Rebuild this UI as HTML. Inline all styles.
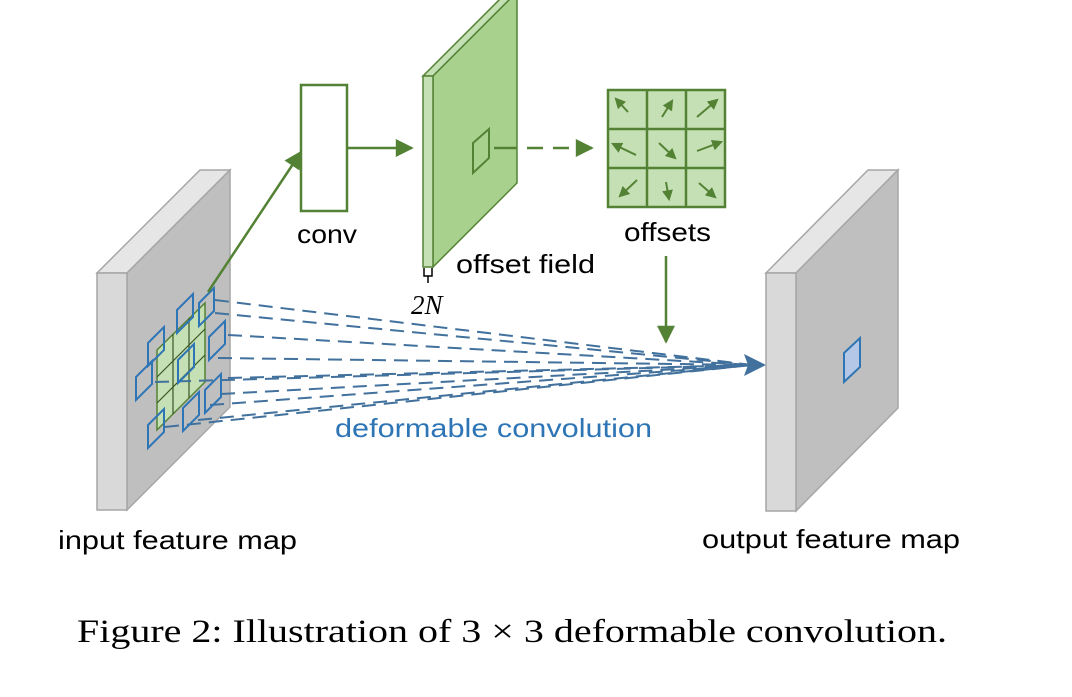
<!DOCTYPE html>
<html><head><meta charset="utf-8"><style>
body{margin:0;background:#fff;width:1072px;height:692px;overflow:hidden}
</style></head><body>
<svg width="1072" height="692" viewBox="0 0 1072 692" xmlns="http://www.w3.org/2000/svg">
<defs>
<marker id="ga" viewBox="0 0 10 10" refX="9" refY="5" markerWidth="20" markerHeight="18" markerUnits="userSpaceOnUse" orient="auto"><path d="M0,0L10,5L0,10z" fill="#548235"/></marker>
<marker id="gs" viewBox="0 0 10 10" refX="8" refY="5" markerWidth="11" markerHeight="11" markerUnits="userSpaceOnUse" orient="auto"><path d="M0,0L10,5L0,10z" fill="#548235"/></marker>
</defs>
<!-- input map -->
<polygon points="97,273 127,273 230,170 200,170" fill="#e6e6e6" stroke="#a6a6a6" stroke-width="1.5"/>
<polygon points="127,273 230,170 230,407 127,510" fill="#bfbfbf" stroke="#a6a6a6" stroke-width="1.5"/>
<rect x="97" y="273" width="30" height="237" fill="#d9d9d9" stroke="#a6a6a6" stroke-width="1.5"/>
<!-- green grid -->
<polygon points="157,350 205,303 205,382 157,430" fill="#c5e0b4" stroke="#548235" stroke-width="1.5"/>
<g stroke="#385723" stroke-width="1.2">
<line x1="173" y1="334" x2="173" y2="414"/><line x1="189" y1="318" x2="189" y2="398"/>
<line x1="157" y1="377" x2="205" y2="329"/><line x1="157" y1="403" x2="205" y2="355"/>
</g>
<!-- blue dashed lines -->
<g stroke="#41719c" stroke-width="2" stroke-dasharray="14,8" fill="none">
<line x1="215" y1="300" x2="752" y2="365"/>
<line x1="215" y1="313" x2="752" y2="365"/>
<line x1="228" y1="335" x2="752" y2="365"/>
<line x1="218" y1="358" x2="752" y2="365"/>
<line x1="228" y1="378" x2="752" y2="365"/>
<line x1="221" y1="394" x2="752" y2="365"/>
<line x1="210" y1="405" x2="752" y2="365"/>
<line x1="198" y1="420" x2="752" y2="365"/>
<line x1="165" y1="427" x2="752" y2="365"/>
<line x1="155" y1="382" x2="752" y2="365"/>
</g>
<polygon points="766,365 744,354 748,365 744,376" fill="#41719c"/>
<!-- blue squares -->
<g fill="none" stroke="#2e75b6" stroke-width="2">
<polygon points="148,343 164,327 164,350 148,366"/>
<polygon points="177,310 193,294 193,317 177,333"/>
<polygon points="199,303 214,288 214,311 199,326"/>
<polygon points="209,337 225,321 225,344 209,360"/>
<polygon points="178,360 194,344 194,367 178,383"/>
<polygon points="136,377 152,361 152,384 136,400"/>
<polygon points="205,390 221,374 221,397 205,413"/>
<polygon points="183,408 199,392 199,415 183,431"/>
<polygon points="148,425 164,409 164,432 148,448"/>
</g>
<!-- arrow input to conv -->
<line x1="208" y1="292" x2="301" y2="152" stroke="#548235" stroke-width="2.5" marker-end="url(#ga)"/>
<!-- conv box -->
<rect x="301" y="85" width="46" height="126" fill="#fff" stroke="#548235" stroke-width="2.5"/>
<line x1="347" y1="148" x2="412" y2="148" stroke="#548235" stroke-width="2.5" marker-end="url(#ga)"/>
<!-- offset field -->
<polygon points="423,76 433,76 517,-8 507,-8" fill="#c5e0b4" stroke="#548235" stroke-width="1.5"/>
<polygon points="433,76 517,-8 517,183 433,267" fill="#a9d18e" stroke="#548235" stroke-width="1.5"/>
<rect x="423" y="76" width="10" height="191" fill="#c5e0b4" stroke="#548235" stroke-width="1.5"/>
<polygon points="473,143 489,129 489,158 473,173" fill="none" stroke="#548235" stroke-width="2"/>
<line x1="494" y1="148" x2="517" y2="148" stroke="#548235" stroke-width="2.5"/>
<line x1="527" y1="148" x2="592" y2="148" stroke="#548235" stroke-width="2.5" stroke-dasharray="16,10" marker-end="url(#ga)"/>
<path d="M424,268 v8 h8 v-8 M428,276 v7" fill="none" stroke="#000" stroke-width="1.5"/>
<text x="411" y="314" font-family="Liberation Serif,serif" font-style="italic" font-size="27">2N</text>
<!-- offsets grid -->
<rect x="608" y="90" width="117" height="117" fill="#c5e0b4" stroke="#548235" stroke-width="2.5"/>
<g stroke="#548235" stroke-width="2.5"><line x1="647" y1="90" x2="647" y2="207"/><line x1="686" y1="90" x2="686" y2="207"/><line x1="608" y1="129" x2="725" y2="129"/><line x1="608" y1="168" x2="725" y2="168"/></g>
<g stroke="#548235" stroke-width="2" marker-end="url(#gs)">
<line x1="628" y1="112" x2="616" y2="99"/>
<line x1="662" y1="117" x2="672" y2="101"/>
<line x1="697" y1="117" x2="717" y2="100"/>
<line x1="636" y1="155" x2="613" y2="144"/>
<line x1="659" y1="143" x2="675" y2="158"/>
<line x1="697" y1="151" x2="721" y2="142"/>
<line x1="637" y1="180" x2="620" y2="196"/>
<line x1="666" y1="182" x2="669" y2="199"/>
<line x1="699" y1="183" x2="715" y2="197"/>
</g>
<line x1="666" y1="256" x2="666" y2="342" stroke="#548235" stroke-width="2.5" marker-end="url(#ga)"/>
<!-- output map -->
<polygon points="766,273 796,273 898,170 868,170" fill="#e6e6e6" stroke="#a6a6a6" stroke-width="1.5"/>
<polygon points="796,273 898,170 898,408 796,511" fill="#bfbfbf" stroke="#a6a6a6" stroke-width="1.5"/>
<rect x="766" y="273" width="30" height="238" fill="#d9d9d9" stroke="#a6a6a6" stroke-width="1.5"/>
<polygon points="844,353 860,338 860,367 844,382" fill="#b4c7e7" stroke="#2e75b6" stroke-width="2"/>
<!-- labels -->
<g font-family="Liberation Sans,sans-serif" font-size="26" fill="#000" lengthAdjust="spacingAndGlyphs">
<text x="297" y="243" textLength="60" lengthAdjust="spacingAndGlyphs">conv</text>
<text x="624" y="241" textLength="87" lengthAdjust="spacingAndGlyphs">offsets</text>
<text x="456" y="273" textLength="139" lengthAdjust="spacingAndGlyphs">offset field</text>
<text x="58" y="549" textLength="239" lengthAdjust="spacingAndGlyphs">input feature map</text>
<text x="702" y="548" textLength="258" lengthAdjust="spacingAndGlyphs">output feature map</text>
<text x="335" y="437" fill="#2e75b6" textLength="317" lengthAdjust="spacingAndGlyphs">deformable convolution</text>
</g>
<text x="77" y="642" font-family="Liberation Serif,serif" font-size="33" textLength="870" lengthAdjust="spacingAndGlyphs">Figure 2: Illustration of 3 × 3 deformable convolution.</text>
</svg>
</body></html>
